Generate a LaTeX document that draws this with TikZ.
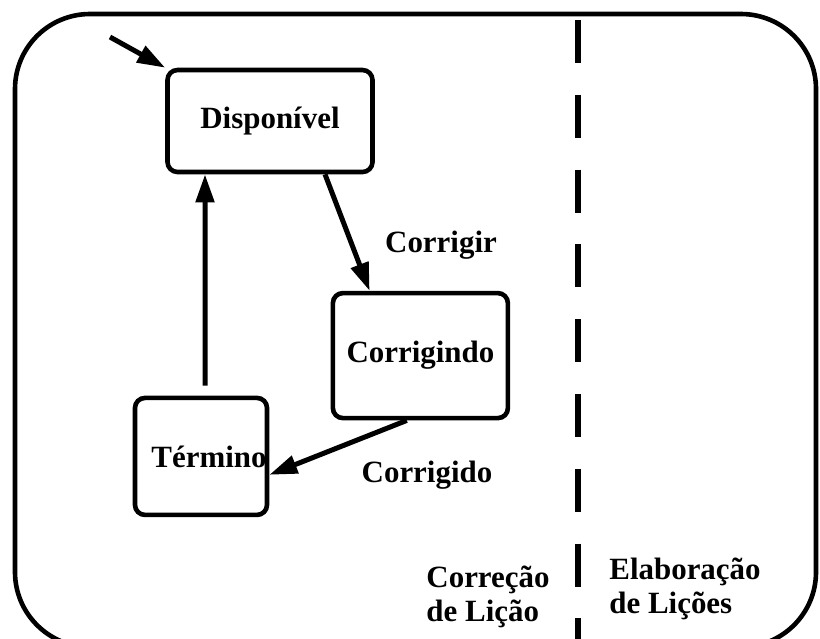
\documentclass[tikz,border=0pt]{standalone}
\usepackage{fontspec}
\setmainfont{Liberation Serif}
\usetikzlibrary{positioning,calc,arrows.meta}

\begin{document}
\begin{tikzpicture}[line width=0.115cm, font=\fontsize{22}{24}\selectfont\bfseries,
   state/.style={draw, rounded corners=0.25cm, inner sep=0pt, align=center},
   trans/.style={-{Triangle[length=0.7cm,width=0.45cm]}, line width=0.125cm}]
   \clip (0,0) rectangle (20.5,-15.95);
   % outer frame and lane divider
   \draw[rounded corners=1.875cm] (0.375,-0.35) rectangle (20.4,-16.175);
   \draw[line width=0.14cm, dash pattern=on 1.075cm off 0.795cm] (14.45,-0.5) -- (14.45,-16.5);
   % states
   \node[state, minimum width=5.125cm, minimum height=2.55cm] (disp) at (6.75,-3.025) {Disponível};
   \node[state, minimum width=4.375cm, minimum height=3.125cm] (corr) at (10.51,-8.89) {Corrigindo};
   \node[state, minimum width=3.3cm, minimum height=2.925cm] (term) at (5.025,-11.41) {\hspace*{0.4cm}Término};
   \coordinate (init) at (2.75,-0.925);
   % labels
   \node (lcorrigir) at (11.025,-6.125) {Corrigir};
   \node (lcorrigido) at (10.675,-11.875) {Corrigido};
   \node[align=left] (lcorrecao) at (12.2,-14.93) {Correção\\de Lição};
   \node[align=left] (lelab) at (17.125,-14.725) {Elaboração\\de Lições};
   % transitions
   \draw[trans] (init) -- (disp.north west); % start
   \draw[trans] ($(disp.south)+(1.375,0)$) -- ($(corr.north west)+(0.975,0)$); % corrigir
   \draw[trans] ($(corr.south)+(-0.34,0)$) -- ($(term.east)+(0,-0.46)$); % corrigido
   \draw[trans] ($(term.north)+(0.1,0.25)$) -- ($(disp.south)+(-1.625,0)$); % back
\end{tikzpicture}
\end{document}
